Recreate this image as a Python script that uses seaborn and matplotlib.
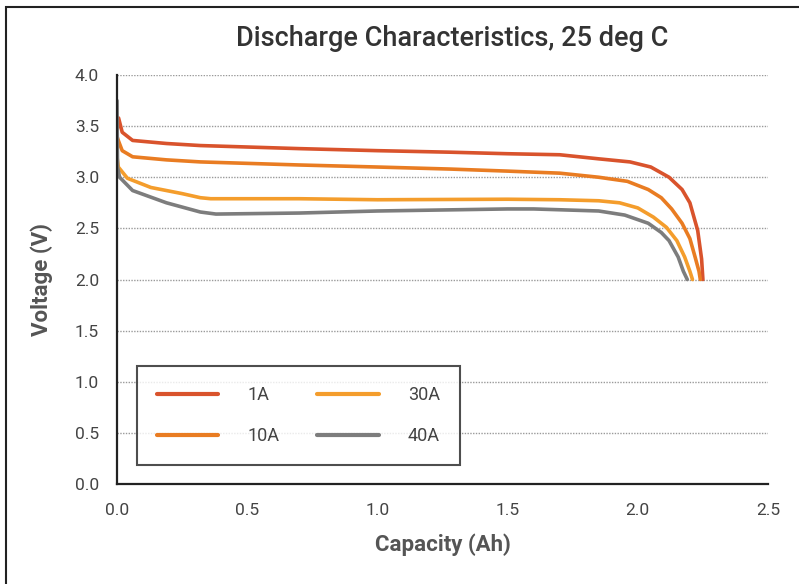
import matplotlib
matplotlib.use("Agg")
import matplotlib.pyplot as plt
import seaborn as sns
import pandas as pd
from matplotlib.patches import Rectangle

# ---- data ----
series_names = ["1A", "10A", "30A", "40A"]

cap_1A = [0.0, 0.006, 0.02, 0.06, 0.19, 0.32, 0.70, 1.00, 1.28, 1.50, 1.70, 1.85, 1.97, 2.05, 2.12, 2.17, 2.20, 2.23, 2.245, 2.25]
v_1A = [3.45, 3.58, 3.44, 3.36, 3.33, 3.31, 3.28, 3.26, 3.245, 3.23, 3.22, 3.18, 3.15, 3.10, 3.00, 2.88, 2.75, 2.48, 2.20, 2.00]

cap_10A = [0.0, 0.005, 0.02, 0.06, 0.19, 0.32, 0.70, 1.00, 1.28, 1.50, 1.70, 1.85, 1.96, 2.04, 2.09, 2.13, 2.17, 2.20, 2.22, 2.235, 2.24]
v_10A = [3.40, 3.36, 3.26, 3.20, 3.17, 3.15, 3.12, 3.10, 3.08, 3.06, 3.04, 3.00, 2.96, 2.88, 2.80, 2.69, 2.55, 2.40, 2.22, 2.08, 2.00]

cap_30A = [0.0, 0.005, 0.04, 0.13, 0.25, 0.32, 0.36, 0.70, 1.00, 1.50, 1.70, 1.85, 1.93, 2.00, 2.06, 2.11, 2.15, 2.18, 2.20, 2.21]
v_30A = [3.20, 3.10, 2.99, 2.90, 2.84, 2.80, 2.79, 2.79, 2.78, 2.785, 2.78, 2.77, 2.75, 2.70, 2.61, 2.51, 2.38, 2.22, 2.08, 2.00]

cap_40A = [0.0, 0.002, 0.01, 0.06, 0.19, 0.32, 0.38, 0.70, 1.00, 1.50, 1.60, 1.85, 1.95, 2.04, 2.09, 2.12, 2.155, 2.175, 2.19]
v_40A = [3.75, 3.10, 3.00, 2.87, 2.75, 2.66, 2.64, 2.65, 2.67, 2.69, 2.69, 2.67, 2.63, 2.55, 2.46, 2.38, 2.22, 2.08, 2.00]

y_ticks = [0.0, 0.5, 1.0, 1.5, 2.0, 2.5, 3.0, 3.5, 4.0]
x_ticks = [0.0, 0.5, 1.0, 1.5, 2.0, 2.5]

title = "Discharge Characteristics, 25 deg C"
xlabel = "Capacity (Ah)"
ylabel = "Voltage (V)"

colors = ["#d9532c", "#e97c22", "#f49d2c", "#7d7d7d"]

# ---- build long table ----
frames = []
for name, c, v in zip(series_names,
                      [cap_1A, cap_10A, cap_30A, cap_40A],
                      [v_1A, v_10A, v_30A, v_40A]):
    frames.append(pd.DataFrame({"Capacity": c, "Voltage": v, "Current": name}))
df = pd.concat(frames, ignore_index=True)

sns.set_theme(style="white")
plt.rcParams["font.family"] = ["Roboto", "DejaVu Sans"]

fig = plt.figure(figsize=(7.99, 5.84), dpi=100)
ax = fig.add_axes([117 / 799, 1 - 484 / 584, (768 - 117) / 799, (484 - 75) / 584])

for name, col in zip(series_names, colors):
    sns.lineplot(data=df[df["Current"] == name], x="Capacity", y="Voltage",
                 color=col, linewidth=2.6, sort=False, estimator=None,
                 ax=ax, label=name)

ax.set_xlim(0, 2.5)
ax.set_ylim(0, 4.0)
ax.set_xticks(x_ticks)
ax.set_yticks(y_ticks)
ax.set_xticklabels([f"{t:.1f}" for t in x_ticks])
ax.set_yticklabels([f"{t:.1f}" for t in y_ticks])

ax.grid(False)
for t in y_ticks[1:]:
    ax.axhline(t, color="#9a9a9a", linewidth=1.0, linestyle=(0, (1, 1)), zorder=0)

for s in ["top", "right"]:
    ax.spines[s].set_visible(False)
for s in ["left", "bottom"]:
    ax.spines[s].set_color("#222222")
    ax.spines[s].set_linewidth(1.6)

ax.tick_params(axis="both", which="major", direction="out", length=7, width=1.5,
               color="#222222", labelsize=12.5, labelcolor="#444444", pad=6)
ax.tick_params(axis="x", pad=7)

ax.set_xlabel(xlabel, fontsize=16, fontweight="bold", color="#555555", labelpad=11)
ax.set_ylabel(ylabel, fontsize=16, fontweight="bold", color="#555555", labelpad=16)

fig.text(452 / 799, 1 - 38 / 584, title, ha="center", va="center",
         fontsize=19.5, fontweight="medium", color="#333333")

leg = ax.legend(ncol=2, loc="lower left", bbox_to_anchor=(0.031, 0.046),
                borderaxespad=0.0,
                frameon=True, fancybox=False, edgecolor="#222222",
                fontsize=13, handlelength=3.4, handletextpad=1.6,
                columnspacing=2.1, labelspacing=1.3, borderpad=1.1)
leg.get_frame().set_linewidth(1.5)
for txt in leg.get_texts():
    txt.set_color("#444444")
for ln in leg.get_lines():
    ln.set_linewidth(3)

# outer border (top and left visible in reference)
fig.patches.append(Rectangle((6 / 799, -0.1), 1.2, 1 - 7 / 584 + 0.1,
                             transform=fig.transFigure, fill=False,
                             edgecolor="#222222", linewidth=1.5))

fig.savefig("out.png", dpi=100, facecolor="white")
